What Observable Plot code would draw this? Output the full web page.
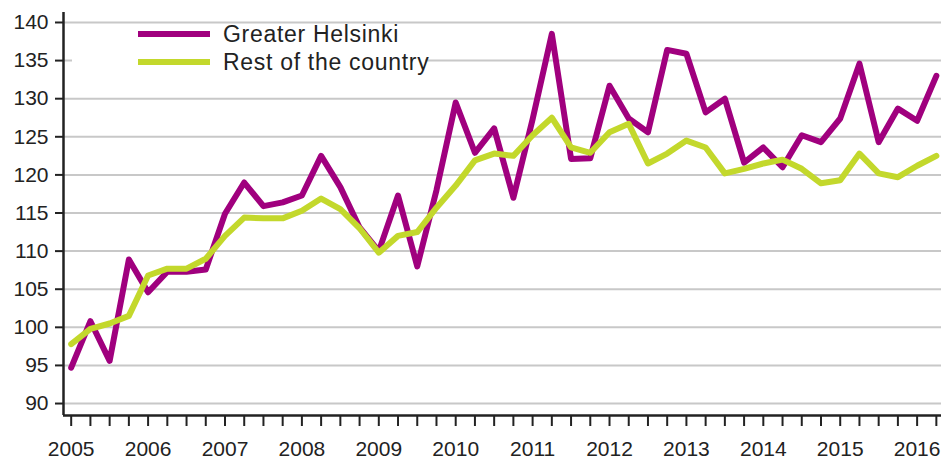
<!DOCTYPE html>
<html>
<head>
<meta charset="utf-8">
<script src="https://cdn.jsdelivr.net/npm/d3@7"></script>
<script src="https://cdn.jsdelivr.net/npm/@observablehq/plot@0.6"></script>
<style>
  html, body { margin: 0; padding: 0; background: #fff; }
  #wrap { position: relative; width: 941px; height: 459px; font-family: "Liberation Sans", Arial, sans-serif; }
  #legend { position: absolute; left: 72px; top: 24px; width: 353px; height: 52px; background: #fff; }
  .swatch { position: absolute; left: 66px; width: 72px; height: 6px; }
  .lbl { position: absolute; left: 151px; font-size: 23px; letter-spacing: 0.7px; color: #222; white-space: nowrap; line-height: 28px; }
</style>
</head>
<body>
<div id="wrap"></div>
<script>
// ---- data ----
const startYear = 2005;
const nQuarters = 46; // 2005Q1 .. 2016Q2
const seriesNames = ["Greater Helsinki", "Rest of the country"];
const helsinki = [94.7,100.8,95.6,108.9,104.6,107.3,107.3,107.6,114.9,119.0,
  115.9,116.4,117.3,122.5,118.4,113.1,110.0,117.3,108.0,118.0,
  129.5,122.9,126.1,117.0,127.3,138.5,122.1,122.2,131.7,127.4,
  125.6,136.4,135.9,128.2,130.0,121.6,123.6,121.0,125.2,124.3,
  127.4,134.6,124.3,128.7,127.1,133.0];
const rest = [97.8,99.8,100.5,101.5,106.8,107.7,107.7,109.0,112.0,114.4,
  114.3,114.3,115.3,116.9,115.5,113.0,109.8,112.0,112.5,115.7,
  118.6,121.9,122.8,122.5,125.2,127.5,123.6,122.9,125.6,126.7,
  121.5,122.8,124.5,123.6,120.2,120.8,121.5,122.0,120.8,118.9,
  119.3,122.8,120.2,119.7,121.2,122.5];
const yTicks = [90,95,100,105,110,115,120,125,130,135,140];
const yearLabels = [2005,2006,2007,2008,2009,2010,2011,2012,2013,2014,2015,2016];
const colors = ["#a0007e", "#c3d82c"];

// ---- build table ----
const quarterPos = d3.range(nQuarters).map(i => startYear + i / 4);
const rows = [];
helsinki.forEach((v, i) => rows.push({t: quarterPos[i], v, s: seriesNames[0]}));
rest.forEach((v, i) => rows.push({t: quarterPos[i], v, s: seriesNames[1]}));

const xDom = [2004.9, 2016.317];
const yDom = [88.43, 141.31];

const chart = Plot.plot({
  width: 941,
  height: 459,
  marginLeft: 63,
  marginRight: 0,
  marginTop: 12,
  marginBottom: 44,
  style: {fontFamily: '"Liberation Sans", Arial, sans-serif', background: "#fff", color: "#222"},
  x: {domain: xDom},
  y: {domain: yDom},
  marks: [
    Plot.ruleY(yTicks, {stroke: "#c8c8c8", strokeWidth: 2}),
    Plot.line(rows.filter(d => d.s === seriesNames[0]), {x: "t", y: "v", stroke: colors[0], strokeWidth: 6}),
    Plot.line(rows.filter(d => d.s === seriesNames[1]), {x: "t", y: "v", stroke: colors[1], strokeWidth: 6}),
    Plot.axisY({ticks: yTicks, tickSize: 8, tickPadding: 7, fontSize: 21, stroke: "#222", strokeWidth: 2, label: null, tickFormat: d => String(d)}),
    Plot.axisX({ticks: quarterPos, tickSize: 11, tickPadding: 15, fontSize: 21, stroke: "#222", strokeWidth: 2, label: null,
      tickFormat: d => yearLabels.includes(d) ? String(d) : ""}),
    Plot.ruleX([xDom[0]], {stroke: "#222", strokeWidth: 2.5}),
    Plot.ruleY([yDom[0]], {stroke: "#222", strokeWidth: 2.5})
  ]
});

const wrap = document.getElementById("wrap");
wrap.appendChild(chart);

const legend = document.createElement("div");
legend.id = "legend";
seriesNames.forEach((name, i) => {
  const sw = document.createElement("div");
  sw.className = "swatch";
  sw.style.top = (7 + i * 28) + "px";
  sw.style.background = colors[i];
  legend.appendChild(sw);
  const lb = document.createElement("div");
  lb.className = "lbl";
  lb.style.top = (-4 + i * 28) + "px";
  lb.textContent = name;
  legend.appendChild(lb);
});
wrap.appendChild(legend);
</script>
</body>
</html>
